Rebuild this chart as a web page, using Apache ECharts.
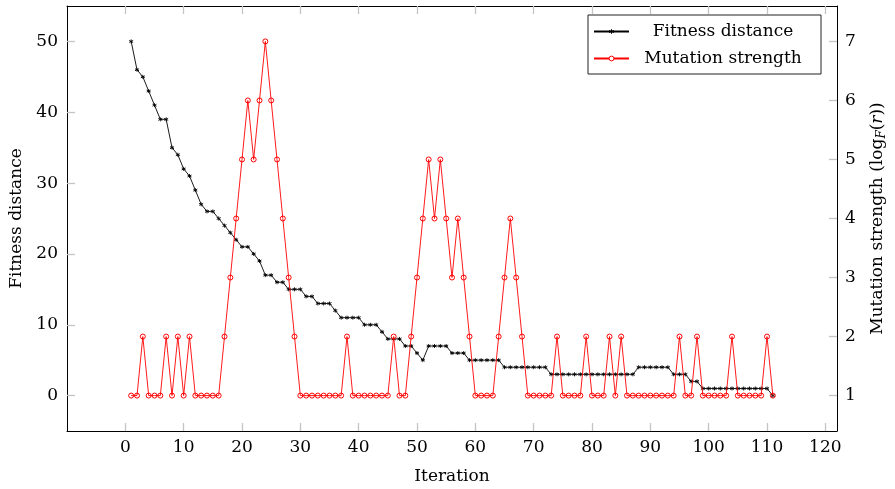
<!DOCTYPE html>
<html>
<head>
<meta charset="utf-8">
<script src="https://cdn.jsdelivr.net/npm/echarts@6/dist/echarts.min.js"></script>
<style>
  html, body { margin: 0; padding: 0; background: #fff; }
  #chart { width: 895px; height: 489px; }
</style>
</head>
<body>
<div id="chart"></div>
<script>
// Iteration numbers (x values)
const iterations = [
  1, 2, 3, 4, 5, 6, 7, 8, 9, 10, 11, 12, 13, 14, 15, 16, 17, 18, 19, 20,
  21, 22, 23, 24, 25, 26, 27, 28, 29, 30, 31, 32, 33, 34, 35, 36, 37, 38, 39, 40,
  41, 42, 43, 44, 45, 46, 47, 48, 49, 50, 51, 52, 53, 54, 55, 56, 57, 58, 59, 60,
  61, 62, 63, 64, 65, 66, 67, 68, 69, 70, 71, 72, 73, 74, 75, 76, 77, 78, 79, 80,
  81, 82, 83, 84, 85, 86, 87, 88, 89, 90, 91, 92, 93, 94, 95, 96, 97, 98, 99, 100,
  101, 102, 103, 104, 105, 106, 107, 108, 109, 110, 111
];

// Fitness distance per iteration (left axis)
const fitnessDistance = [
  50, 46, 45, 43, 41, 39, 39, 35, 34, 32, 31, 29, 27, 26, 26, 25, 24, 23, 22, 21,
  21, 20, 19, 17, 17, 16, 16, 15, 15, 15, 14, 14, 13, 13, 13, 12, 11, 11, 11, 11,
  10, 10, 10, 9, 8, 8, 8, 7, 7, 6, 5, 7, 7, 7, 7, 6, 6, 6, 5, 5,
  5, 5, 5, 5, 4, 4, 4, 4, 4, 4, 4, 4, 3, 3, 3, 3, 3, 3, 3, 3,
  3, 3, 3, 3, 3, 3, 3, 4, 4, 4, 4, 4, 4, 3, 3, 3, 2, 2, 1, 1,
  1, 1, 1, 1, 1, 1, 1, 1, 1, 1, 0
];

// Mutation strength per iteration, log_F(r) (right axis)
const mutationStrength = [
  1, 1, 2, 1, 1, 1, 2, 1, 2, 1, 2, 1, 1, 1, 1, 1, 2, 3, 4, 5,
  6, 5, 6, 7, 6, 5, 4, 3, 2, 1, 1, 1, 1, 1, 1, 1, 1, 2, 1, 1,
  1, 1, 1, 1, 1, 2, 1, 1, 2, 3, 4, 5, 4, 5, 4, 3, 4, 3, 2, 1,
  1, 1, 1, 2, 3, 4, 3, 2, 1, 1, 1, 1, 1, 2, 1, 1, 1, 1, 2, 1,
  1, 1, 2, 1, 2, 1, 1, 1, 1, 1, 1, 1, 1, 1, 2, 1, 1, 2, 1, 1,
  1, 1, 1, 2, 1, 1, 1, 1, 1, 2, 1
];

// Tick positions
const xTicks = [0, 10, 20, 30, 40, 50, 60, 70, 80, 90, 100, 110, 120];
const leftTicks = [0, 10, 20, 30, 40, 50];
const rightTicks = [1, 2, 3, 4, 5, 6, 7];

const seriesNames = ['Fitness distance', 'Mutation strength'];

const FONT = 'DejaVu Serif';
const TICK_COLOR = '#c4c4c4';
const RED = '#ff0000';
const STAR = 'path://M0,-1L0,1M-0.87,-0.5L0.87,0.5M-0.87,0.5L0.87,-0.5';

const chart = echarts.init(document.getElementById('chart'), null, { renderer: 'canvas' });

// The four axis lines together form the frame; ticks point inwards
function innerTicks(values) {
  return { show: true, inside: true, length: 8, customValues: values, lineStyle: { color: TICK_COLOR, width: 1.3 } };
}
function frameLine() {
  return { show: true, onZero: false, lineStyle: { color: '#000', width: 1 } };
}

const fitnessPoints = iterations.map((x, k) => [x, fitnessDistance[k]]);
const mutationPoints = iterations.map((x, k) => [x, mutationStrength[k]]);

const option = {
  animation: false,
  textStyle: { fontFamily: FONT },
  grid: {
    left: 67, right: 58, top: 6, bottom: 58, show: false,
    containLabel: false, outerBoundsMode: 'none'
  },
  legend: {
    data: [
      { name: seriesNames[0], itemStyle: { color: '#000', borderColor: '#000', borderWidth: 0.9 } },
      { name: seriesNames[1], itemStyle: { color: '#fff', borderColor: RED, borderWidth: 1 } }
    ],
    orient: 'vertical',
    left: 588, top: 15,
    padding: [8, 9, 7, 5],
    itemWidth: 35, itemHeight: 6, itemGap: 10,
    borderColor: '#222', borderWidth: 1, backgroundColor: '#fff',
    selectedMode: false,
    formatter: name => '{t|' + name + '}',
    textStyle: {
      fontFamily: FONT, color: '#000',
      rich: { t: { width: 178, align: 'center', fontSize: 17, lineHeight: 18, fontFamily: FONT, color: '#000' } }
    }
  },
  xAxis: [
    {
      type: 'value', min: -10, max: 122, position: 'bottom',
      name: 'Iteration', nameLocation: 'middle', nameGap: 37,
      nameTextStyle: { fontSize: 17, color: '#000', fontFamily: FONT },
      axisLine: frameLine(),
      axisTick: innerTicks(xTicks),
      axisLabel: { customValues: xTicks, fontSize: 17, color: '#000', margin: 8, fontFamily: FONT },
      splitLine: { show: false }
    },
    {
      type: 'value', min: -10, max: 122, position: 'top',
      axisLine: frameLine(),
      axisTick: innerTicks(xTicks),
      axisLabel: { show: false },
      splitLine: { show: false }
    }
  ],
  yAxis: [
    {
      type: 'value', min: -5, max: 55, position: 'left',
      name: 'Fitness distance', nameLocation: 'middle', nameGap: 40,
      nameTextStyle: { fontSize: 17, color: '#000', fontFamily: FONT },
      axisLine: frameLine(),
      axisTick: innerTicks(leftTicks),
      axisLabel: { customValues: leftTicks, fontSize: 17, color: '#000', margin: 9, fontFamily: FONT },
      splitLine: { show: false }
    },
    {
      type: 'value', min: 0.4, max: 7.6, position: 'right',
      name: '{n|Mutation strength (log}{s|F}{n|(}{i|r}{n|))}',
      nameLocation: 'middle', nameGap: 31, nameRotate: 90,
      nameTextStyle: {
        fontSize: 17, color: '#000', fontFamily: FONT,
        rich: {
          n: { fontSize: 17, fontFamily: FONT, color: '#000', lineHeight: 20 },
          i: { fontSize: 17, fontFamily: FONT, color: '#000', fontStyle: 'italic', lineHeight: 20 },
          s: { fontSize: 12, fontFamily: FONT, color: '#000', fontStyle: 'italic', verticalAlign: 'bottom', lineHeight: 12, padding: [6, 0, 0, 0] }
        }
      },
      axisLine: frameLine(),
      axisTick: innerTicks(rightTicks),
      axisLabel: { customValues: rightTicks, fontSize: 17, color: '#000', margin: 8, fontFamily: FONT },
      splitLine: { show: false }
    }
  ],
  series: [
    {
      name: seriesNames[0],
      type: 'line',
      xAxisIndex: 0, yAxisIndex: 0,
      data: fitnessPoints,
      symbol: STAR,
      symbolSize: 4,
      lineStyle: { color: '#000', width: 0.9 },
      itemStyle: { color: '#000', borderColor: '#000', borderWidth: 0.9 },
      z: 3
    },
    {
      name: seriesNames[1],
      type: 'line',
      xAxisIndex: 0, yAxisIndex: 1,
      data: mutationPoints,
      symbol: 'circle',
      symbolSize: 5,
      lineStyle: { color: RED, width: 0.9 },
      itemStyle: { color: 'none', borderColor: RED, borderWidth: 1 },
      z: 4
    }
  ]
};

chart.setOption(option);
</script>
</body>
</html>
